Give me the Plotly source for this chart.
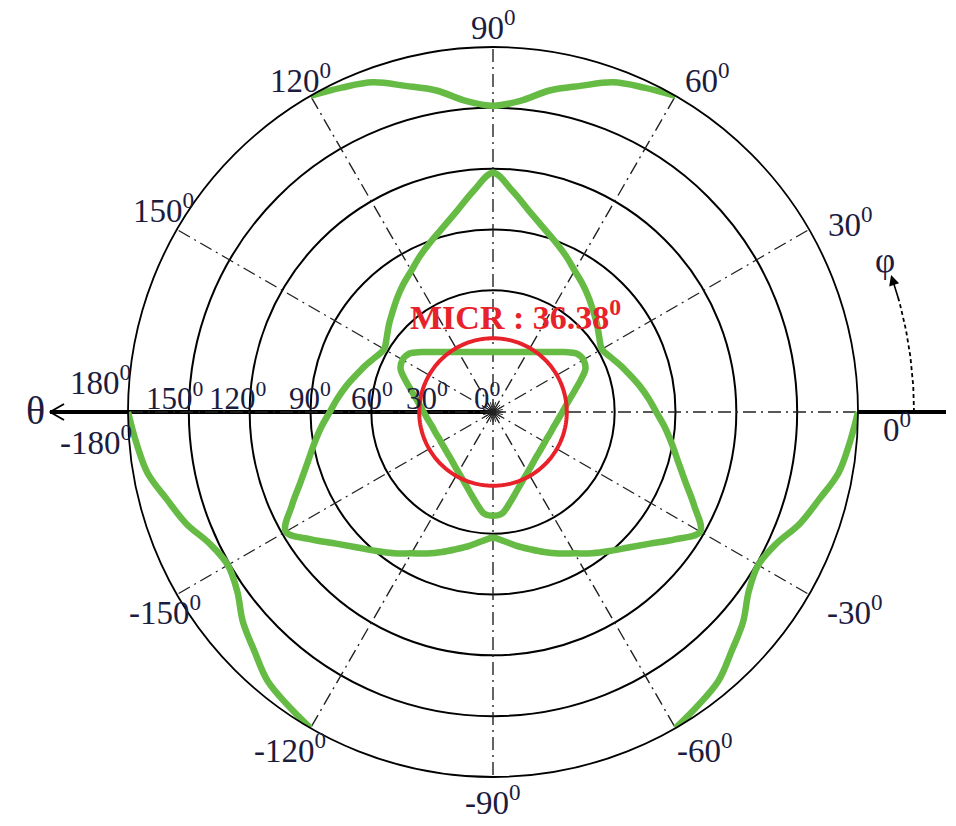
import numpy as np
import plotly.graph_objects as go

# ---- data -------------------------------------------------------------
# azimuth phi (deg) sampled every 5 degrees
phi = list(range(0, 365, 5))

# inner workspace boundary (theta, deg)
inner_r = [34.2, 36.1, 38.6, 41.9, 46.0, 50.3, 51.5, 50.3, 46.0, 41.9, 38.6, 36.1,
           34.2, 32.7, 31.5, 30.6, 30.1, 29.7, 29.6, 29.7, 30.1, 30.6, 31.5, 32.7,
           34.2, 36.1, 38.6, 41.9, 46.0, 50.3, 51.5, 50.3, 46.0, 41.9, 38.6, 36.1,
           34.2, 32.7, 31.5, 30.6, 30.1, 29.7, 29.6, 29.7, 30.1, 30.6, 31.5, 32.7,
           34.2, 36.1, 38.6, 41.9, 46.0, 50.3, 51.2, 50.3, 46.0, 41.9, 38.6, 36.1,
           34.2, 32.7, 31.5, 30.6, 30.1, 29.7, 29.6, 29.7, 30.1, 30.6, 31.5, 32.7,
           34.2]

# middle boundary
middle_r = [80.5, 77.0, 73.5, 70.0, 67.0, 64.0, 62.0, 64.0, 67.0, 70.0, 73.5, 77.0,
            80.5, 85.0, 89.5, 94.5, 101.0, 109.5, 118.0, 109.5, 101.0, 94.5, 89.5, 85.0,
            80.5, 77.0, 73.5, 70.0, 67.0, 64.0, 62.0, 64.0, 67.0, 70.0, 73.5, 77.0,
            80.5, 85.0, 89.5, 94.5, 101.0, 109.5, 118.0, 109.5, 101.0, 94.5, 89.5, 85.0,
            80.5, 77.0, 73.5, 70.0, 67.0, 64.0, 62.0, 64.0, 67.0, 70.0, 73.5, 77.0,
            80.5, 85.0, 89.5, 94.5, 101.0, 109.5, 118.0, 109.5, 101.0, 94.5, 89.5, 85.0,
            80.5]

# outer boundary (beyond 180 deg it leaves the plot -> gaps)
outer_r = [180.0, None, None, None, None, None, None, None, None, None, None, None,
           180.0, 176.5, 173.0, 166.5, 161.0, 154.0, 151.0, 154.0, 161.0, 166.5, 173.0, 176.5,
           180.0, None, None, None, None, None, None, None, None, None, None, None,
           180.0, 176.5, 173.0, 166.5, 161.0, 154.0, 151.0, 154.0, 161.0, 166.5, 173.0, 176.5,
           180.0, None, None, None, None, None, None, None, None, None, None, None,
           180.0, 176.5, 173.0, 166.5, 161.0, 154.0, 151.0, 154.0, 161.0, 166.5, 173.0, 176.5,
           180.0]

# maximum inscribed circle radius
micr = 36.38

grid_circles = [60, 90, 120, 150, 180]
spoke_angles = list(range(0, 360, 30))

angular_labels = ["0", "30", "60", "90", "120", "150", "180", "-180",
                  "-150", "-120", "-90", "-60", "-30"]
radial_labels = ["150", "120", "90", "60", "30", "0"]

# ---- geometry of the page (pixels) ------------------------------------
W, H = 956, 826
CX, CY, R = 493, 412, 365
GREEN = "#66bb45"
RED = "#e8222a"
INK = "#1c1c3e"
SERIF = "Liberation Serif"

fig = go.Figure()

# --- pixel overlay: theta axis, arrows ---
fig.add_trace(go.Scatter(x=[CX, 50], y=[CY, CY], mode="lines",
                         line=dict(color="black", width=4), hoverinfo="skip"))
fig.add_trace(go.Scatter(x=[CX + R, 946], y=[CY, CY], mode="lines",
                         line=dict(color="black", width=4), hoverinfo="skip"))
fig.add_trace(go.Scatter(x=[64, 50, 64], y=[CY - 8, CY, CY + 8], mode="lines",
                         line=dict(color="black", width=2), hoverinfo="skip"))
arc = np.radians(np.linspace(0, 16, 40))
rho = 421
fig.add_trace(go.Scatter(x=CX + rho * np.cos(arc), y=CY - rho * np.sin(arc),
                         mode="lines", line=dict(color="black", width=1.8, dash="4px,3px"),
                         hoverinfo="skip"))

# --- polar part ---
for a in spoke_angles:
    fig.add_trace(go.Scatterpolar(r=[0, 180], theta=[a, a], mode="lines",
                                  line=dict(color="#222222", width=1.4, dash="13px,5px,2px,5px"),
                                  hoverinfo="skip"))
for a in range(0, 360, 15):
    fig.add_trace(go.Scatterpolar(r=[0, 5], theta=[a, a], mode="lines",
                                  line=dict(color="#222222", width=1), hoverinfo="skip"))

for rr in (outer_r, middle_r, inner_r):
    fig.add_trace(go.Scatterpolar(r=rr, theta=phi, mode="lines",
                                  line=dict(color=GREEN, width=6.5, shape="spline"),
                                  connectgaps=False, hoverinfo="skip"))

circ_theta = list(range(0, 361, 2))
fig.add_trace(go.Scatterpolar(r=[micr] * len(circ_theta), theta=circ_theta, mode="lines",
                              line=dict(color=RED, width=4), hoverinfo="skip"))

# ---- labels -------------------------------------------------------------
ang_pos = [(897, 427), (850, 222), (707, 78), (493, 25), (300, 78), (163, 208),
           (100, 380), (96, 440), (165, 610), (290, 748), (493, 800), (705, 748), (855, 610)]
rad_pos = [(175, 396), (238, 396), (310, 396), (372, 396), (427, 396), (487, 396)]

ann = []
for txt, (x, y) in zip(angular_labels, ang_pos):
    ann.append(dict(x=x, y=y, text=f"{txt}<sup>0</sup>", showarrow=False,
                    font=dict(family=SERIF, size=33, color=INK)))
for txt, (x, y) in zip(radial_labels, rad_pos):
    ann.append(dict(x=x, y=y, text=f"{txt}<sup>0</sup>", showarrow=False,
                    font=dict(family=SERIF, size=31, color=INK)))
ann.append(dict(x=35, y=410, text="θ", showarrow=False,
                font=dict(family=SERIF, size=40, color=INK)))
ann.append(dict(x=885, y=260, text="φ", showarrow=False,
                font=dict(family=SERIF, size=35, color=INK)))
ann.append(dict(x=515, y=315, text=f"<b>MICR : {micr}<sup>0</sup></b>", showarrow=False,
                font=dict(family=SERIF, size=34, color=RED)))
# arrow head of the phi arc
ha = np.radians(19)
ta = np.radians(15.5)
ann.append(dict(x=CX + rho * np.cos(ha), y=CY - rho * np.sin(ha),
                ax=CX + rho * np.cos(ta), ay=CY - rho * np.sin(ta),
                axref="x", ayref="y", text="", showarrow=True,
                arrowhead=2, arrowsize=1.3, arrowwidth=1.6, arrowcolor="black"))
for a in ann:
    a.setdefault("xref", "x")
    a.setdefault("yref", "y")

fig.update_layout(
    width=W, height=H,
    margin=dict(l=0, r=0, t=0, b=0, pad=0),
    paper_bgcolor="white", plot_bgcolor="white",
    showlegend=False,
    xaxis=dict(range=[0, W], visible=False, fixedrange=True),
    yaxis=dict(range=[H, 0], visible=False, fixedrange=True),
    annotations=ann,
    polar=dict(
        domain=dict(x=[(CX - R) / W, (CX + R) / W],
                    y=[(H - CY - R) / H, (H - CY + R) / H]),
        bgcolor="rgba(0,0,0,0)",
        angularaxis=dict(rotation=0, direction="counterclockwise",
                         showticklabels=False, ticks="", showgrid=False,
                         showline=True, linecolor="black", linewidth=1.8),
        radialaxis=dict(range=[0, 180], tickvals=grid_circles, showticklabels=False,
                        ticks="", showline=False, showgrid=True,
                        gridcolor="black", gridwidth=1.6),
    ),
)

fig.write_html("out.html")
